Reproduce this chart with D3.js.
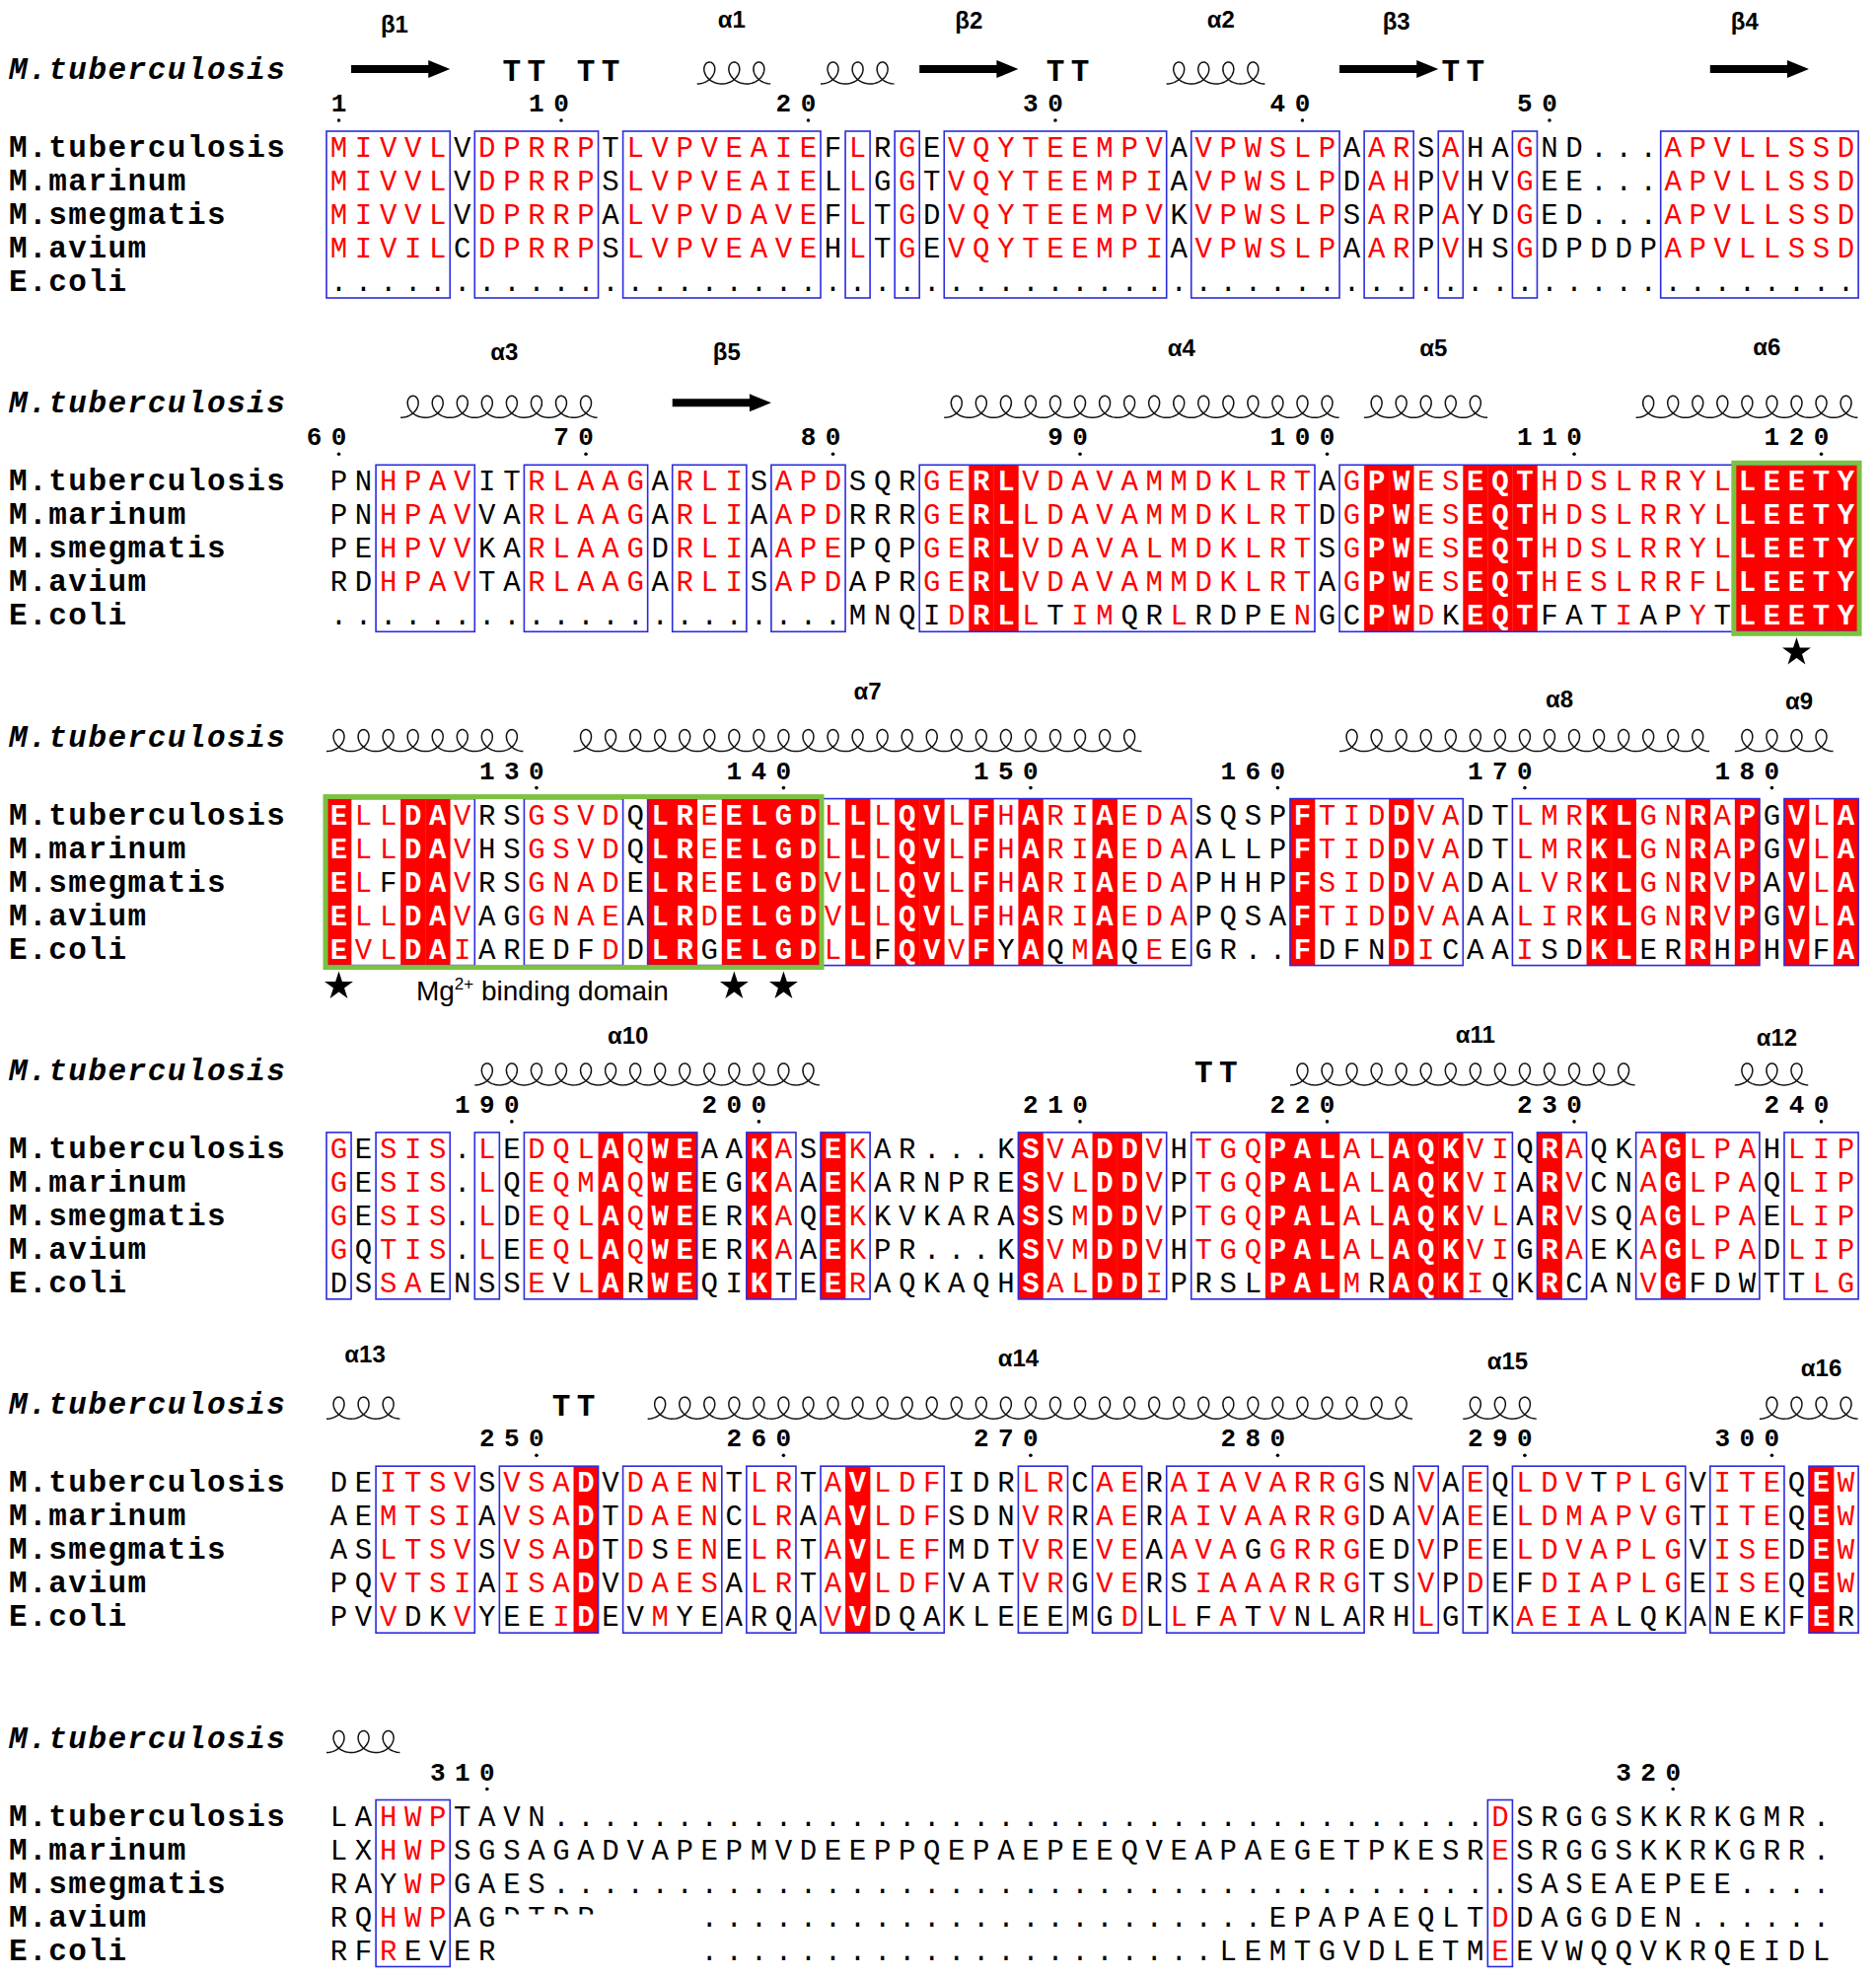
<!DOCTYPE html>
<html>
<head>
<meta charset="utf-8">
<script src="https://d3js.org/d3.v7.min.js"></script>
<style>
  body { margin: 0; background: #fff; }
</style>
</head>
<body>
<div id="chart"></div>
<script>
// Nombres de las secuencias alineadas
const seqNames = ["M.tuberculosis", "M.marinum", "M.smegmatis", "M.avium", "E.coli"];
const ssName = "M.tuberculosis";

// Secuencias por bloque (minúscula = residuo no similar dentro de un recuadro)
const seq1 = [
  "MIVVLVDPRRPTLVPVEAIEFLRGEVQYTEEMPVAVPWSLPAARSAHAGND...APVLLSSD",
  "MIVVLVDPRRPSLVPVEAIELLGGTVQYTEEMPIAVPWSLPDAHPVHVGEE...APVLLSSD",
  "MIVVLVDPRRPALVPVDAVEFLTGDVQYTEEMPVKVPWSLPSARPAYDGED...APVLLSSD",
  "MIVILCDPRRPSLVPVEAVEHLTGEVQYTEEMPIAVPWSLPAARPVHSGDPDDPAPVLLSSD",
  ".........." + ".........." + ".........." + ".........." + ".........." + ".........." + ".."
];
const seq2 = [
  "PNHPAVITRLAAGARLISAPDSQRGERLVDAVAMMDKLRTAGPWESEQTHDSLRRYLLEETY",
  "PNHPAVVARLAAGARLIAAPDRRRGERLLDAVAMMDKLRTDGPWESEQTHDSLRRYLLEETY",
  "PEHPVVKARLAAGDRLIAAPEPQPGERLVDAVALMDKLRTSGPWESEQTHDSLRRYLLEETY",
  "RDHPAVTARLAAGARLISAPDAPRGERLVDAVAMMDKLRTAGPWESEQTHESLRRFLLEETY",
  ".........." + ".........." + "." + "MNQiDRLLtIMqrLrdpeNGcPWDkEQTfatIapYtLEETY"
];
const seq3 = [
  "ELLDAVRSGSVDQLREELGDLLLQVLFHARIAEDASQSPFTIDDVADTLMRKLGNRAPGVLA",
  "ELLDAVHSGSVDQLREELGDLLLQVLFHARIAEDAALLPFTIDDVADTLMRKLGNRAPGVLA",
  "ELfDAVRSGNADELREELGDVLLQVLFHARIAEDAPHHPFSIDDVADALVRKLGNRVPAVLA",
  "ELLDAVAGGNAEALRDELGDVLLQVLFHARIAEDAPQSAFTIDDVAAALIRKLGNRVPGVLA",
  "EVLDAIARedfDDLRgELGDLLfQVVFyAqMAqEeGR..FdfnDIcAAIsdKLerRhPHVfA"
];
const seq4 = [
  "GESIS.LEDQLAQWEAAKASEKAR...KSVADDVHTGQPALALAQKVIQRAQKAGLPAHLIP",
  "GESIS.LQEQMAQWEEGKAAEKARNPRESVLDDVPTGQPALALAQKVIARVCNAGLPAQLIP",
  "GESIS.LDEQLAQWEERKAQEKKVKARASsMDDVPTGQPALALAQKVLARVSQAGLPAELIP",
  "GQTIS.LEEQLAQWEERKAAEKPR...KSVMDDVHTGQPALALAQKVIGRAEKAGLPADLIP",
  "dSSAeNsSEvLArWEQIKtEERAQKAQHSALDDIPrslPALMrAQKIqKRcANVGfdwTtLG"
];
const seq5 = [
  "DEITSVSVSADVDAENTLRTAVLDFIDRLRCAERAIAVARRGSNVAEQLDVtPLGVITEQEW",
  "AEMTSIAVSADTDAENCLRAAVLDFSDNVRRAERAIVAARRGDAVAEELDMAPVGTITEQEW",
  "ASLTSVSVSADTDsENELRTAVLEFMDTVREVEAAVAgGRRGEDVPEELDVAPLGVISEDEW",
  "PQVTSIAISADVDAESALRTAVLDFVATVRGVERsIAAARRGTSVPDEfDIAPLGEISEQEW",
  "PVVdkVYeeIDEvMyeArqAVVdqaKLEeeMgDLLfAtVnlaRHLGtKAEIAlqkAnekFEr"
];
const seq6 = [
  "LAHWPTAVN" + ".........." + ".........." + ".........." + "........" + "D" + "SRGGSKKRKGMR" + ".",
  "LXHWPSGSAGADVAPEPMVDEEPPQEPAEPEEQVEAPAEGETPKESRESRGGSKKRKGRR.",
  "RAyWPGAES" + ".........." + ".........." + ".........." + "........." + "SASEAEPEE" + "....",
  "RQHWPAGDTDP" + "...." + ".........." + ".........." + "..." + "EPAPAEQLT" + "D" + "DAGGDEN" + "......",
  "RFRevER" + "........" + ".........." + ".........." + "." + "LEMTGVDLETM" + "E" + "EVWQQVKRQEIDL"
];

// Tipo de columna: R = idéntico (fondo rojo), B = similar (recuadro), - = nada
const cols1 = "BBBBB-BBBBB-BBBBBBBB-B-B-BBBBBBBBB-BBBBBB-BB-B--B-----BBBBBBBB";
const cols2 = "--BBBB--BBBBB-BBB-BBB---BBRRBBBBBBBBBBBB-BRRBBRRRBBBBBBBBRRRRR";
const cols3 = "RBBRRB--BBBB-RRBRRRRBRBRRBRBRBBRBBB----RBBBRBB--BBBRRBBRBR-RBR";
const cols4 = "B-BBB-B-BBBRBRR--RB-RB------RBBRRB-BBBRRRBBRRRBB-RB--BRBBB-BBB";
const cols5 = "--BBBB-BBBR-BBBB-BB-BRBBB---BB-BB-BBBBBBBB--B-B-BBBBBBB-BBB-RB";
const cols6 = "--BBB" + "----------" + "----------" + "----------" + "----------" + "--" + "B" + "-------------";

// Estructura secundaria: E = hebra, H = hélice, T = giro
const ss1 = "-EEEE--TT-TT---HHH--HHH-EEEE-TT---HHHH---EEEETT---------EEEE--";
const ss2 = "---HHHHHHHH---EEEE-------HHHHHHHHHHHHHHHH-HHHHH------HHHHHHHHH";
const ss3 = "HHHHHHHH--HHHHHHHHHHHHHHHHHHHHHHH--------HHHHHHHHHHHHHHH-HHHH-";
const ss4 = "------HHHHHHHHHHHHHH---------------TT--HHHHHHHHHHHHHH----HHH--";
const ss5 = "HHH------TT--HHHHHHHHHHHHHHHHHHHHHHHHHHHHHHH--HHH---------HHHH";
const ss6 = "HHH" + "----------" + "----------" + "----------" + "----------" + "----------" + "--------";

// Etiquetas de los elementos [texto, columna]
const labels1 = [["β1", 2.25], ["α1", 15.9], ["β2", 25.5], ["α2", 35.7], ["β3", 42.8], ["β4", 56.9]];
const labels2 = [["α3", 6.7], ["β5", 15.7], ["α4", 34.1], ["α5", 44.3], ["α6", 57.8]];
const labels3 = [["α7", 21.4], ["α8", 49.4], ["α9", 59.1]];
const labels4 = [["α10", 11.7], ["α11", 46], ["α12", 58.2]];
const labels5 = [["α13", 1.06], ["α14", 27.5], ["α15", 47.3], ["α16", 60]];
const labels6 = [];

// Residuos marcados y dominio de unión a Mg2+
const stars2 = [59];
const stars3 = [0, 16, 18];
const green2 = [57, 61];
const green3 = [0, 19];
const motifCol = 8.24;

////////////////////////////////////////////////////////////////////////////
// Ajustes de maquetación
const labelBaseline = {
  "β1": 33, "α1": 28, "β2": 29, "α2": 28, "β3": 30, "β4": 30,
  "α3": 27, "β5": 27, "α4": 23, "α5": 23, "α6": 22,
  "α7": 32, "α8": 40, "α9": 42,
  "α10": 43, "α11": 42, "α12": 45,
  "α13": 28, "α14": 32, "α15": 35, "α16": 42
};
const MONO = "'Liberation Mono', 'Courier New', monospace";
const SANS = "'Liberation Sans', Arial, sans-serif";
const RED = "#ff0000", BLUE = "#2b2be0", GREEN = "#7cc142";
const BOX_TOP = 133, BOX_BOTTOM = 302;

const blocks = [
  { seqs: seq1, cols: cols1, ss: ss1, labels: labels1, stars: [], green: null },
  { seqs: seq2, cols: cols2, ss: ss2, labels: labels2, stars: stars2, green: green2 },
  { seqs: seq3, cols: cols3, ss: ss3, labels: labels3, stars: stars3, green: green3, motif: true },
  { seqs: seq4, cols: cols4, ss: ss4, labels: labels4, stars: [], green: null },
  { seqs: seq5, cols: cols5, ss: ss5, labels: labels5, stars: [], green: null },
  { seqs: seq6, cols: cols6, ss: ss6, labels: labels6, stars: [], green: null, mask: [7, 14] }
];

blocks.forEach((b, i) => b.seqs.forEach((s, r) => {
  if (s.length !== b.cols.length) console.warn("bloque", i + 1, "fila", r, s.length, b.cols.length);
}));

const xs = d3.scaleLinear().domain([-0.5, 61.5]).range([331, 331 + 62 * 25.05]);
const bw = xs(1) - xs(0);
const blockY = d3.scaleLinear().domain([0, 5]).range([0, 5 * 338.3]);
const rowY = d3.scaleLinear().domain([0, 4]).range([159, 295]);

const svg = d3.select("#chart").append("svg")
  .attr("width", 1902).attr("height", 2004);
svg.append("rect").attr("width", 1902).attr("height", 2004).attr("fill", "#fff");

// Tramos consecutivos de un carácter que cumple la condición
function runs(str, pred) {
  const out = [];
  let start = -1;
  for (let c = 0; c <= str.length; c++) {
    const ok = c < str.length && pred(str[c]);
    if (ok && start < 0) start = c;
    if (!ok && start >= 0) { out.push([start, c - 1]); start = -1; }
  }
  return out;
}

function coilPath(c0, c1) {
  const x0 = xs(c0 - 0.5), n = c1 - c0 + 1;
  const pts = d3.range(0, n * 2 * Math.PI + 0.001, 0.1).map(u =>
    [x0 + bw * u / (2 * Math.PI) + 11 * Math.sin(u), 85 - 11 * (1 - Math.cos(u))]);
  return d3.line()(pts);
}

function arrowPoints(c0, c1) {
  const x0 = xs(c0 - 0.5), x1 = xs(c1 + 0.5), yc = 70;
  return [[x0, yc - 4], [x1 - 22, yc - 4], [x1 - 22, yc - 9], [x1, yc],
          [x1 - 22, yc + 9], [x1 - 22, yc + 4], [x0, yc + 4]].map(p => p.join(",")).join(" ");
}

function letterColor(ch, type) {
  const lower = ch !== ch.toUpperCase();
  if (ch === ".") return "#000";
  if (type === "R") return "#fff";
  if (type === "B") return lower ? "#000" : RED;
  return "#000";
}

let residue = 0;

blocks.forEach((blk, bi) => {
  const g = svg.append("g").attr("transform", `translate(0,${blockY(bi)})`);
  const n = blk.cols.length;

  // Nombre de la estructura secundaria
  g.append("text").attr("x", 9).attr("y", 80)
    .attr("font-family", MONO).attr("font-size", 31).attr("font-weight", "bold")
    .attr("font-style", "italic").style("letter-spacing", "1.5px")
    .text(ssName);

  // Etiquetas β / α
  g.selectAll(".lab").data(blk.labels).join("text")
    .attr("x", d => xs(d[1])).attr("y", d => labelBaseline[d[0]])
    .attr("text-anchor", "middle").attr("font-family", SANS)
    .attr("font-size", 24).attr("font-weight", "bold")
    .text(d => d[0]);

  // Hebras
  g.selectAll(".arrow").data(runs(blk.ss, ch => ch === "E")).join("polygon")
    .attr("points", d => arrowPoints(d[0], d[1])).attr("fill", "#000");

  // Hélices
  g.selectAll(".coil").data(runs(blk.ss, ch => ch === "H")).join("path")
    .attr("d", d => coilPath(d[0], d[1]))
    .attr("fill", "none").attr("stroke", "#111").attr("stroke-width", 1.5);

  // Giros
  g.selectAll(".turn").data(d3.range(n).filter(c => blk.ss[c] === "T")).join("text")
    .attr("x", c => xs(c)).attr("y", 82).attr("text-anchor", "middle")
    .attr("font-family", MONO).attr("font-size", 31).attr("font-weight", "bold")
    .text("T");

  // Numeración de M.tuberculosis
  const marks = [];
  Array.from(blk.seqs[0]).forEach((ch, c) => {
    if (ch === ".") return;
    residue += 1;
    if (residue === 1 || residue % 10 === 0) marks.push({ c, num: String(residue) });
  });
  marks.forEach(m => {
    const digits = Array.from(m.num);
    g.selectAll(null).data(digits).join("text")
      .attr("x", (d, k) => xs(m.c - (digits.length - 1 - k))).attr("y", 113)
      .attr("text-anchor", "middle").attr("font-family", MONO)
      .attr("font-size", 26).attr("font-weight", "bold").text(d => d);
    g.append("circle").attr("cx", xs(m.c)).attr("cy", 122).attr("r", 1.8).attr("fill", "#000");
  });

  // Columnas idénticas
  g.selectAll(".fill").data(d3.range(n).filter(c => blk.cols[c] === "R")).join("rect")
    .attr("x", c => xs(c - 0.5)).attr("width", bw + 0.3)
    .attr("y", BOX_TOP).attr("height", BOX_BOTTOM - BOX_TOP).attr("fill", RED);

  // Letras
  blk.seqs.forEach((s, r) => {
    g.append("g").selectAll("text").data(Array.from(s)).join("text")
      .attr("x", (ch, c) => xs(c)).attr("y", rowY(r))
      .attr("text-anchor", "middle").attr("font-family", MONO).attr("font-size", 29)
      .attr("font-weight", (ch, c) => blk.cols[c] === "R" ? "bold" : "normal")
      .attr("fill", (ch, c) => letterColor(ch, blk.cols[c]))
      .text(ch => ch.toUpperCase());
  });

  // Zona borrada del último bloque
  if (blk.mask) {
    g.append("rect").attr("x", xs(blk.mask[0] - 0.5)).attr("width", xs(blk.mask[1] + 0.5) - xs(blk.mask[0] - 0.5))
      .attr("y", rowY(3) - 12).attr("height", rowY(4) - rowY(3) + 22).attr("fill", "#fff");
  }

  // Recuadros de similitud
  g.selectAll(".box").data(runs(blk.cols, ch => ch !== "-")).join("rect")
    .attr("x", d => xs(d[0] - 0.5)).attr("width", d => xs(d[1] + 0.5) - xs(d[0] - 0.5))
    .attr("y", BOX_TOP).attr("height", BOX_BOTTOM - BOX_TOP)
    .attr("fill", "none").attr("stroke", BLUE).attr("stroke-width", 1.6);

  // Nombres de las especies
  g.selectAll(".name").data(seqNames).join("text")
    .attr("x", 9).attr("y", (d, r) => rowY(r))
    .attr("font-family", MONO).attr("font-size", 31).attr("font-weight", "bold")
    .style("letter-spacing", "1.5px").text(d => d);

  // Recuadro verde
  if (blk.green) {
    g.append("rect").attr("x", xs(blk.green[0] - 0.5) - 1).attr("y", BOX_TOP - 2)
      .attr("width", xs(blk.green[1] + 0.5) - xs(blk.green[0] - 0.5) + 2)
      .attr("height", BOX_BOTTOM - BOX_TOP + 4)
      .attr("fill", "none").attr("stroke", GREEN).attr("stroke-width", 5);
  }

  // Estrellas
  g.selectAll(".star").data(blk.stars).join("path")
    .attr("transform", c => `translate(${xs(c)},323)`)
    .attr("d", d3.symbol(d3.symbolStar, 260)).attr("fill", "#000");

  if (blk.motif) {
    const t = g.append("text").attr("x", xs(motifCol)).attr("y", 337)
      .attr("text-anchor", "middle").attr("font-family", SANS).attr("font-size", 28);
    t.append("tspan").text("Mg");
    t.append("tspan").attr("dy", -11).attr("font-size", 17).text("2+");
    t.append("tspan").attr("dy", 11).text(" binding domain");
  }
});
</script>
</body>
</html>
